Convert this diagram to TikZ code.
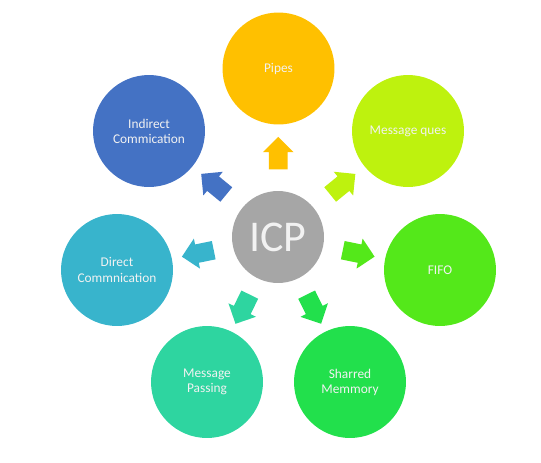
\documentclass[tikz,border=0pt]{standalone}
\usepackage{fontspec}
\setmainfont{Carlito}
\usetikzlibrary{shapes.arrows}
\definecolor{cICP}{HTML}{A6A6A6}
\definecolor{cPipes}{HTML}{FFC000}
\definecolor{cQues}{HTML}{BEF20E}
\definecolor{cFifo}{HTML}{54E81A}
\definecolor{cShared}{HTML}{22E04C}
\definecolor{cPassing}{HTML}{2ED5A0}
\definecolor{cDirect}{HTML}{38B4CC}
\definecolor{cIndirect}{HTML}{4472C4}
\begin{document}
\begin{tikzpicture}[x=0.02cm, y=-0.02cm,
  item/.style={shape=circle, minimum size=2.24cm, inner sep=0pt, text=white!95!black, align=center, font=\fontsize{7.6}{8.6}\selectfont},
  blk/.style={single arrow, fill=#1, sloped, allow upside down, inner sep=0pt, inner ysep=0.18cm, single arrow head extend=0.12cm, minimum height=0.65cm, minimum width=0.6cm}]
\useasboundingbox (0,0) rectangle (541,463);
\node[shape=circle, fill=cICP, minimum size=1.84cm, inner sep=0pt, text=white!95!black, font=\fontsize{25}{25}\selectfont] (ICP) at (278, 237) {ICP};
\node[item, fill=cPipes] (N1) at (278.5, 68.5) {Pipes};
\node[item, fill=cQues] (N2) at (408, 131) {Message ques};
\node[item, fill=cFifo] (N3) at (440, 270) {FIFO};
\node[item, fill=cShared] (N4) at (350, 382) {Sharred\\Memmory};
\node[item, fill=cPassing] (N5) at (207, 382) {Message\\Passing};
\node[item, fill=cDirect] (N6) at (117, 270) {Direct\\Commnication};
\node[item, fill=cIndirect] (N7) at (149, 131) {Indirect\\Commication};
\path (ICP) -- node[blk=cPipes] {} (N1);
\path (ICP) -- node[blk=cQues] {} (N2);
\path (ICP) -- node[blk=cFifo] {} (N3);
\path (ICP) -- node[blk=cShared] {} (N4);
\path (ICP) -- node[blk=cPassing] {} (N5);
\path (ICP) -- node[blk=cDirect] {} (N6);
\path (ICP) -- node[blk=cIndirect] {} (N7);
\end{tikzpicture}
\end{document}
